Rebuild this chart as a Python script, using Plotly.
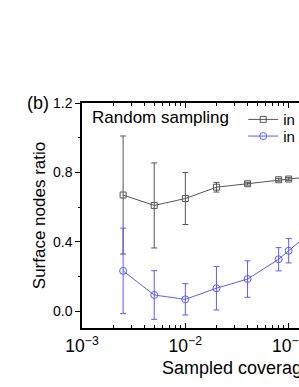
import plotly.graph_objects as go

coverage = [0.0025, 0.005, 0.01, 0.02, 0.04, 0.08, 0.1, 0.2]
ratio_a = [0.67, 0.61, 0.65, 0.715, 0.735, 0.758, 0.762, 0.78]
err_a = [0.34, 0.245, 0.15, 0.028, 0.008, 0.008, 0.008, 0.008]
ratio_b = [0.233, 0.094, 0.069, 0.133, 0.186, 0.300, 0.349, 0.50]
err_b = [0.246, 0.14, 0.09, 0.125, 0.105, 0.067, 0.07, 0.06]
name_a = "in dataset A"
name_b = "in dataset B"

GRAY = "#555555"
BLUE = "#5c5cff"
FONT = "Liberation Sans, Arial, sans-serif"

fig = go.Figure()
fig.add_trace(go.Scatter(
    x=coverage, y=ratio_a, name=name_a, mode="lines+markers", legend="legend",
    line=dict(color=GRAY, width=1),
    marker=dict(symbol="square-open", size=6, color=GRAY, line=dict(width=1)),
    error_y=dict(type="data", array=err_a, color=GRAY, thickness=1, width=3),
))
fig.add_trace(go.Scatter(
    x=coverage, y=ratio_b, name=name_b, mode="lines+markers", legend="legend2",
    line=dict(color=BLUE, width=1),
    marker=dict(symbol="circle-open", size=7, color=BLUE, line=dict(width=1)),
    error_y=dict(type="data", array=err_b, color=BLUE, thickness=1, width=3),
))

leg_common = dict(xanchor="left", yanchor="middle", bgcolor="rgba(0,0,0,0)",
                  font=dict(size=15), itemwidth=30)

fig.update_layout(
    width=412, height=387,
    margin=dict(l=82, r=20, t=103, b=54),
    paper_bgcolor="white", plot_bgcolor="white",
    font=dict(family=FONT, color="black", size=14),
    showlegend=True,
    legend=dict(x=0.52, y=0.926, **leg_common),
    legend2=dict(x=0.52, y=0.852, **leg_common),
    xaxis=dict(
        type="log", range=[-3, 0], dtick=1, exponentformat="power",
        showline=True, linecolor="black", linewidth=1.5, mirror="ticks",
        ticks="inside", ticklen=5, tickwidth=1, tickcolor="black",
        minor=dict(ticks="inside", ticklen=3, dtick="D1", tickcolor="black"),
        showgrid=False, zeroline=False,
        tickfont=dict(size=14), ticklabelstandoff=2,
        title=dict(text="Sampled coverage", font=dict(size=18), standoff=6),
    ),
    yaxis=dict(
        range=[-0.096, 1.2], dtick=0.4, tick0=0, tickformat=".1f",
        showline=True, linecolor="black", linewidth=1.5, mirror=True,
        ticks="outside", ticklen=5, tickwidth=1, tickcolor="black",
        minor=dict(ticks="outside", ticklen=2, dtick=0.2, tick0=0, tickcolor="black"),
        showgrid=False, zeroline=False,
        tickfont=dict(size=14),
        title=dict(text="Surface nodes ratio", font=dict(size=17), standoff=3),
    ),
    annotations=[
        dict(text="(b)", xref="paper", yref="paper", x=-0.1, y=1.0,
             xanchor="right", yanchor="middle", showarrow=False, font=dict(size=18)),
        dict(text="Random sampling", xref="paper", yref="paper", x=0.025, y=0.935,
             xanchor="left", yanchor="middle", showarrow=False, font=dict(size=17)),
    ],
)

fig.write_html(
    "out.html",
    config={"displayModeBar": False},
    post_script="document.body.style.margin='0';document.body.style.overflow='hidden';document.documentElement.style.overflow='hidden';",
)
